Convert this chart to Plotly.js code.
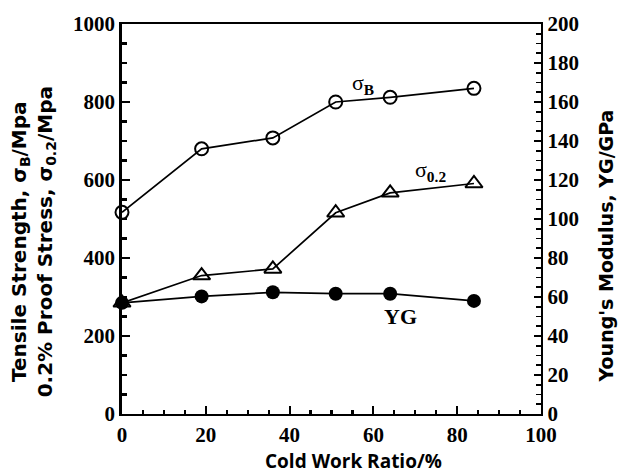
<!DOCTYPE html>
<html>
<head>
<meta charset="utf-8">
<script src="https://cdn.plot.ly/plotly-3.0.1.min.js"></script>
<style>
  html, body { margin: 0; padding: 0; background: #fff; }
  #chart { width: 622px; height: 474px; }
</style>
</head>
<body>
<div id="chart"></div>
<script>
// Cold work ratio (%) at which each specimen was tested
const coldWork = [0, 19, 36, 51, 64, 84];
// Tensile strength sigma_B (MPa)
const tensileStrength = [517, 680, 708, 800, 812, 835];
// 0.2% proof stress sigma_0.2 (MPa)
const proofStress = [285, 355, 372, 516, 567, 591];
// Young's modulus YG (GPa), right axis
const youngsModulus = [57, 60.3, 62.4, 61.7, 61.7, 58];

const xTicks = [0, 20, 40, 60, 80, 100];
const leftTicks = [0, 200, 400, 600, 800, 1000];
const rightTicks = [0, 20, 40, 60, 80, 100, 120, 140, 160, 180, 200];

const serif = 'Liberation Serif, Times New Roman, serif';
const titleSans = 'DejaVu Sans, sans-serif';
const xTitleSans = 'Open Sans, sans-serif';

const lineStyle = { color: '#000', width: 1.7 };

const traces = [
  {
    x: coldWork, y: tensileStrength, type: 'scatter', mode: 'lines+markers',
    line: lineStyle,
    marker: { symbol: 'circle-open', size: 13, color: '#000', line: { width: 2, color: '#000' } },
    cliponaxis: false, showlegend: false
  },
  {
    x: coldWork, y: proofStress, type: 'scatter', mode: 'lines+markers',
    line: lineStyle,
    marker: { symbol: 'triangle-up-open', size: 15, color: '#000', line: { width: 2, color: '#000' } },
    cliponaxis: false, showlegend: false
  },
  {
    x: coldWork, y: youngsModulus, type: 'scatter', mode: 'lines+markers', yaxis: 'y2',
    line: lineStyle,
    marker: { symbol: 'circle', size: 14, color: '#000' },
    cliponaxis: false, showlegend: false
  }
];

const tickFont = { family: serif, size: 21, color: '#000', weight: 'bold' };

const layout = {
  width: 622, height: 474,
  margin: { l: 122, r: 81, t: 24, b: 60 },
  paper_bgcolor: '#fff', plot_bgcolor: '#fff',
  xaxis: {
    range: [0, 100], tickvals: xTicks, ticktext: xTicks.map(String),
    showgrid: false, zeroline: false,
    showline: true, linecolor: '#000', linewidth: 2.4, mirror: true,
    ticks: 'inside', ticklen: 8, tickwidth: 2.2, tickcolor: '#000',
    minor: { dtick: 5, ticks: 'inside', ticklen: 4, tickwidth: 2.2, tickcolor: '#000' },
    tickfont: tickFont
  },
  yaxis: {
    range: [0, 1000], tickvals: leftTicks, ticktext: leftTicks.map(String),
    showgrid: false, zeroline: false,
    showline: true, linecolor: '#000', linewidth: 2.8,
    ticks: 'inside', ticklen: 8, tickwidth: 2.2, tickcolor: '#000',
    minor: { dtick: 50, ticks: 'inside', ticklen: 5, tickwidth: 2.2, tickcolor: '#000' },
    tickfont: tickFont
  },
  yaxis2: {
    range: [0, 200], overlaying: 'y', side: 'right',
    tickvals: rightTicks, ticktext: rightTicks.map(String),
    showgrid: false, zeroline: false,
    showline: true, linecolor: '#000', linewidth: 2.4,
    ticks: 'inside', ticklen: 7, tickwidth: 1.8, tickcolor: '#000',
    minor: { dtick: 5, ticks: 'inside', ticklen: 5, tickwidth: 1.8, tickcolor: '#000' },
    tickfont: tickFont
  },
  annotations: [
    // axis titles
    { x: -0.2117, y: 0.441, xref: 'paper', yref: 'paper', textangle: -90,
      xanchor: 'center', yanchor: 'middle', showarrow: false,
      text: 'Tensile Strength, σ<sub>B</sub>/Mpa<br>0.2% Proof Stress, σ<sub>0.2</sub>/Mpa',
      font: { family: titleSans, size: 20, color: '#000', weight: 'bold' } },
    { x: 1.1555, y: 0.43, xref: 'paper', yref: 'paper', textangle: -90,
      xanchor: 'center', yanchor: 'middle', showarrow: false,
      text: "Young's Modulus, YG/GPa",
      font: { family: titleSans, size: 19, color: '#000', weight: 'bold' } },
    { x: 0.5526, y: -0.121, xref: 'paper', yref: 'paper',
      xanchor: 'center', yanchor: 'middle', showarrow: false,
      text: 'Cold Work Ratio/%',
      font: { family: xTitleSans, size: 19, color: '#000', weight: 'bold' } },
    // curve labels
    { x: 57.4, y: 846, xref: 'x', yref: 'y', text: 'σ<sub><b>B</b></sub>', showarrow: false,
      font: { family: serif, size: 22, color: '#000' } },
    { x: 73.7, y: 622, xref: 'x', yref: 'y', text: 'σ<sub><b>0.2</b></sub>', showarrow: false,
      font: { family: serif, size: 22, color: '#000' } },
    { x: 66.5, y: 250, xref: 'x', yref: 'y', text: 'YG', showarrow: false,
      font: { family: serif, size: 22, color: '#000', weight: 'bold' } }
  ]
};

Plotly.newPlot('chart', traces, layout, { staticPlot: true, displayModeBar: false });
</script>
</body>
</html>
